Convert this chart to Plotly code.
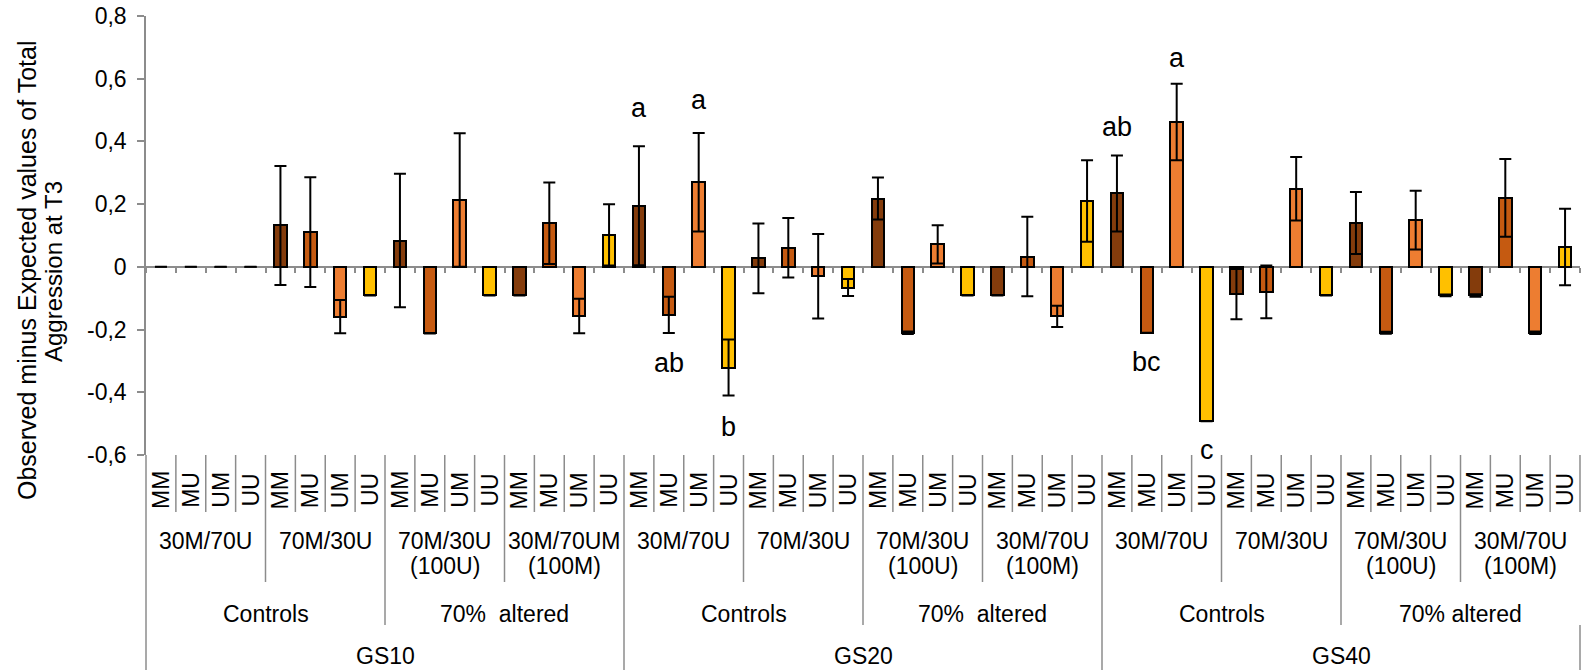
import plotly.graph_objects as go

# ---------------- data ----------------
gs_labels = ["GS10", "GS20", "GS40"]
treatments = ["Controls", "70%\u00a0\u00a0altered", "Controls", "70%\u00a0\u00a0altered", "Controls", "70% altered"]
group_line1 = ["30M/70U", "70M/30U", "70M/30U", "30M/70UM",
               "30M/70U", "70M/30U", "70M/30U", "30M/70U",
               "30M/70U", "70M/30U", "70M/30U", "30M/70U"]
group_line2 = ["", "", "(100U)", "(100M)",
               "", "", "(100U)", "(100M)",
               "", "", "(100U)", "(100M)"]
pairs = ["MM", "MU", "UM", "UU"]

gs10_values = [0.0, 0.0, 0.0, 0.0,
               0.132, 0.111, -0.159, -0.091,
               0.084, -0.2125, 0.213, -0.091,
               -0.091, 0.139, -0.157, 0.102]
gs10_errors = [0.0, 0.0, 0.0, 0.0,
               0.19, 0.175, 0.053, 0.0,
               0.213, 0.0, 0.213, 0.0,
               0.0, 0.13, 0.055, 0.098]
gs20_values = [0.195, -0.153, 0.270, -0.321,
               0.027, 0.061, -0.030, -0.066,
               0.218, -0.2105, 0.072, -0.091,
               -0.091, 0.033, -0.158, 0.210]
gs20_errors = [0.19, 0.058, 0.157, 0.089,
               0.111, 0.095, 0.135, 0.027,
               0.067, 0.004, 0.061, 0.0,
               0.0, 0.127, 0.034, 0.13]
gs40_values = [0.234, -0.21, 0.462, -0.492,
               -0.087, -0.080, 0.249, -0.091,
               0.140, -0.21, 0.149, -0.091,
               -0.091, 0.220, -0.21, 0.063]
gs40_errors = [0.121, 0.0, 0.122, 0.0,
               0.08, 0.084, 0.101, 0.0,
               0.099, 0.003, 0.094, 0.003,
               0.004, 0.124, 0.004, 0.122]

# significance letters: bar index, letter, y position (data units)
letter_idx = [16, 17, 18, 19, 32, 33, 34, 35]
letter_txt = ["a", "ab", "a", "b", "ab", "bc", "a", "c"]
letter_y = [0.506, -0.307, 0.532, -0.510, 0.447, -0.303, 0.665, -0.585]

y_ticks = [-0.6, -0.4, -0.2, 0, 0.2, 0.4, 0.6, 0.8]
y_ticktext = ["-0,6", "-0,4", "-0,2", "0", "0,2", "0,4", "0,6", "0,8"]

pair_colors = {"MM": "#843C0C", "MU": "#C55A11", "UM": "#ED7D31", "UU": "#FFC000"}

# ---------------- build ----------------
values = gs10_values + gs20_values + gs40_values
errors = gs10_errors + gs20_errors + gs40_errors
n = len(values)
xs = [i + 0.5 for i in range(n)]
colors = [pair_colors[pairs[i % 4]] for i in range(n)]
line_colors = ["#404040" if v == 0 else "#000000" for v in values]

FONT = "Liberation Sans, Arial, sans-serif"
NARROW = "Liberation Sans Narrow, Arial Narrow, Liberation Sans, sans-serif"
GRID = "#8C8C8C"
CAT_SIZE = 23

W, H = 1582, 670
ML, MR, MT, MB = 146, 2, 16, 215
PH = H - MT - MB  # plot height in px


def py(px_y):
    """pixel y (from top) -> paper y"""
    return (H - MB - px_y) / PH


fig = go.Figure()
fig.add_trace(go.Bar(
    x=xs, y=values, width=0.42,
    marker=dict(color=colors, line=dict(color=line_colors, width=2)),
    error_y=dict(type="data", array=errors, symmetric=True, color="#000000",
                 thickness=2, width=6),
    hoverinfo="skip", showlegend=False,
))
# invisible trace carrying the zero-line tick axis
fig.add_trace(go.Scatter(x=[0, n], y=[0, 0], xaxis="x2", mode="markers",
                         marker=dict(opacity=0, size=1), hoverinfo="skip",
                         showlegend=False))

shapes = []
annotations = []


def cat_font():
    return dict(family=FONT, size=CAT_SIZE, color="#000")


for i in range(n):
    annotations.append(dict(x=(i + 0.5) / n, xref="paper", y=py(490), yref="paper",
                            text=pairs[i % 4], textangle=-90, showarrow=False,
                            xanchor="center", yanchor="middle", font=cat_font()))
for g in range(len(group_line1)):
    annotations.append(dict(x=(g * 4 + 2) / n, xref="paper", y=py(541), yref="paper",
                            text=group_line1[g], showarrow=False, xanchor="center",
                            yanchor="middle", font=cat_font()))
    if group_line2[g]:
        annotations.append(dict(x=(g * 4 + 2) / n, xref="paper", y=py(566), yref="paper",
                                text=group_line2[g], showarrow=False, xanchor="center",
                                yanchor="middle", font=cat_font()))
for t, lab in enumerate(treatments):
    annotations.append(dict(x=(t * 8 + 4) / n, xref="paper", y=py(614), yref="paper",
                            text=lab, showarrow=False, xanchor="center", yanchor="middle",
                            font=cat_font()))
for s, lab in enumerate(gs_labels):
    annotations.append(dict(x=(s * 16 + 8) / n, xref="paper", y=py(656), yref="paper",
                            text=lab, showarrow=False, xanchor="center", yanchor="middle",
                            font=cat_font()))

# separator lines of the multi-level category axis
for k in range(0, n + 1):
    if k == 0:
        ends = [(455, 670)]
    elif k == n:
        ends = [(455, 512), (625, 670)]
    elif k % 16 == 0:
        ends = [(455, 670)]
    elif k % 8 == 0:
        ends = [(455, 625)]
    elif k % 4 == 0:
        ends = [(455, 582)]
    else:
        ends = [(455, 512)]
    for (a, b) in ends:
        shapes.append(dict(type="line", xref="paper", yref="paper",
                           x0=k / n, x1=k / n, y0=py(a), y1=py(b),
                           line=dict(color=GRID, width=1.5)))

# significance letters
for idx, txt, yy in zip(letter_idx, letter_txt, letter_y):
    annotations.append(dict(x=xs[idx], xref="x", y=yy, yref="y", text=txt,
                            showarrow=False, xanchor="center", yanchor="middle",
                            font=dict(family=FONT, size=27, color="#000")))

# y-axis title (two lines)
annotations.append(dict(x=0, xref="paper", xshift=27 - ML, y=py(270), yref="paper",
                        text="Observed minus Expected values of Total", textangle=-90,
                        showarrow=False, xanchor="center", yanchor="middle",
                        font=dict(family=FONT, size=25, color="#000")))
annotations.append(dict(x=0, xref="paper", xshift=53 - ML, y=py(272), yref="paper",
                        text="Aggression at T3", textangle=-90,
                        showarrow=False, xanchor="center", yanchor="middle",
                        font=dict(family=NARROW, size=24, color="#000")))

fig.update_layout(
    width=W, height=H,
    margin=dict(l=ML, r=MR, t=MT, b=MB),
    paper_bgcolor="white", plot_bgcolor="white",
    font=dict(family=FONT, size=20, color="#000"),
    bargap=0,
    xaxis=dict(range=[0, n], visible=False, fixedrange=True),
    xaxis2=dict(range=[0, n], overlaying="x", anchor="free", position=0.6 / 1.4,
                side="bottom", showline=False, showgrid=False, zeroline=False,
                showticklabels=False, ticks="outside", ticklen=5, tickwidth=1.5,
                tickcolor=GRID, tickmode="array", tickvals=list(range(0, n + 1))),
    yaxis=dict(range=[-0.6, 0.8], tickmode="array", tickvals=y_ticks, ticktext=y_ticktext,
               showline=True, linecolor=GRID, linewidth=1.5, ticks="outside",
               ticklen=7, tickwidth=1.5, tickcolor=GRID, showgrid=False,
               zeroline=True, zerolinecolor=GRID, zerolinewidth=2,
               tickfont=dict(family=FONT, size=23, color="#000"),
               ticklabelstandoff=6),
    shapes=shapes,
    annotations=annotations,
)

fig.write_html("out.html",
               config={"displayModeBar": False},
               post_script="document.body.style.margin='0px';"
                           "document.body.style.overflow='hidden';")
